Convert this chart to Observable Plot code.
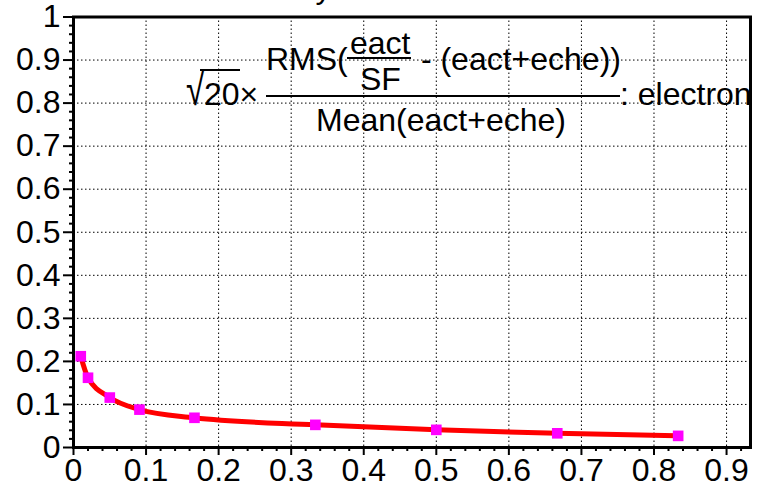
<!DOCTYPE html>
<html>
<head>
<meta charset="utf-8">
<script src="https://cdn.jsdelivr.net/npm/d3@7"></script>
<script src="https://cdn.jsdelivr.net/npm/@observablehq/plot@0.6"></script>
<style>
  html, body { margin: 0; padding: 0; background: white; }
  #wrap { position: relative; width: 760px; height: 484px; overflow: hidden; background: white;
          font-family: "Liberation Sans", Arial, sans-serif; color: black; }
  #wrap svg { position: absolute; left: 0; top: 0; z-index: 2; background: transparent; }
  .t { position: absolute; font-size: 32px; line-height: 1; white-space: pre; z-index: 1; }
  .bar { position: absolute; background: black; z-index: 1; }
</style>
</head>
<body>
<div id="wrap">
  <div class="t" style="right:400px; top:-29px;">Calibration factor for each layer</div>
  <div class="t" style="left:186px; top:78px; transform:scale(1.05,1.42); transform-origin:0 27px;">√</div>
  <div class="bar" style="left:200px; top:69px; width:40px; height:2px;"></div>
  <div class="t" style="left:204px; top:78px;">20×</div>
  <div class="t" style="left:266px; top:43px;">RMS(</div>
  <div class="t" style="left:350px; top:27px;">eact</div>
  <div class="bar" style="left:347px; top:57px; width:64px; height:2px;"></div>
  <div class="t" style="left:360px; top:63px;">SF</div>
  <div class="t" style="left:412px; top:43px;"> - (eact+eche))</div>
  <div class="bar" style="left:266px; top:95px; width:354px; height:2px;"></div>
  <div class="t" style="left:316px; top:104px;">Mean(eact+eche)</div>
  <div class="t" style="left:620px; top:78px;">: electron</div>
</div>
<script>
// data
const xValues = [0.01, 0.02, 0.05, 0.0909, 0.1667, 0.3333, 0.5, 0.6667, 0.8333];
const yValues = [0.212, 0.162, 0.116, 0.088, 0.069, 0.0526, 0.041, 0.033, 0.027];
const xTicks = [0, 0.1, 0.2, 0.3, 0.4, 0.5, 0.6, 0.7, 0.8, 0.9];
const yTicks = [0, 0.1, 0.2, 0.3, 0.4, 0.5, 0.6, 0.7, 0.8, 0.9, 1];
const xMinor = d3.range(0, 0.94, 0.02).filter(v => Math.abs(v * 10 - Math.round(v * 10)) > 1e-6);
const yMinor = d3.range(0, 1.0001, 0.02).filter(v => Math.abs(v * 10 - Math.round(v * 10)) > 1e-6);

const data = xValues.map((x, i) => ({x, y: yValues[i]}));
const fmt = d => String(+d.toFixed(1));

const chart = Plot.plot({
  width: 760,
  height: 484,
  marginLeft: 73,
  marginRight: 10,
  marginTop: 16.5,
  marginBottom: 37,
  x: {domain: [0, 0.933], label: null},
  y: {domain: [0, 1], label: null},
  style: {fontFamily: "'Liberation Sans', Arial, sans-serif", fontSize: "32px", color: "black", background: "transparent", overflow: "visible"},
  marks: [
    Plot.gridX(xTicks.slice(1), {stroke: "black", strokeOpacity: 1, strokeWidth: 1, strokeDasharray: "1.5,2.5"}),
    Plot.gridY(yTicks.slice(1, -1), {stroke: "black", strokeOpacity: 1, strokeWidth: 1, strokeDasharray: "1.5,2.5"}),
    Plot.axisX(xMinor, {tickSize: 4, tickFormat: () => "", strokeWidth: 2, label: null}),
    Plot.axisX(xTicks, {tickSize: 8, tickPadding: 3, strokeWidth: 2, tickFormat: fmt, fill: "black", label: null}),
    Plot.axisY(yMinor, {tickSize: 4, tickFormat: () => "", strokeWidth: 2, label: null}),
    Plot.axisY(yTicks, {tickSize: 10, tickPadding: 3, strokeWidth: 2, tickFormat: fmt, fill: "black", label: null}),
    Plot.line(data, {x: "x", y: "y", curve: "monotone-x", stroke: "red", strokeWidth: 5}),
    Plot.dot(data, {x: "x", y: "y", symbol: "square", fill: "#ff00ff", r: 6}),
    Plot.frame({stroke: "black", strokeWidth: 3})
  ]
});
document.getElementById("wrap").appendChild(chart);
</script>
</body>
</html>
